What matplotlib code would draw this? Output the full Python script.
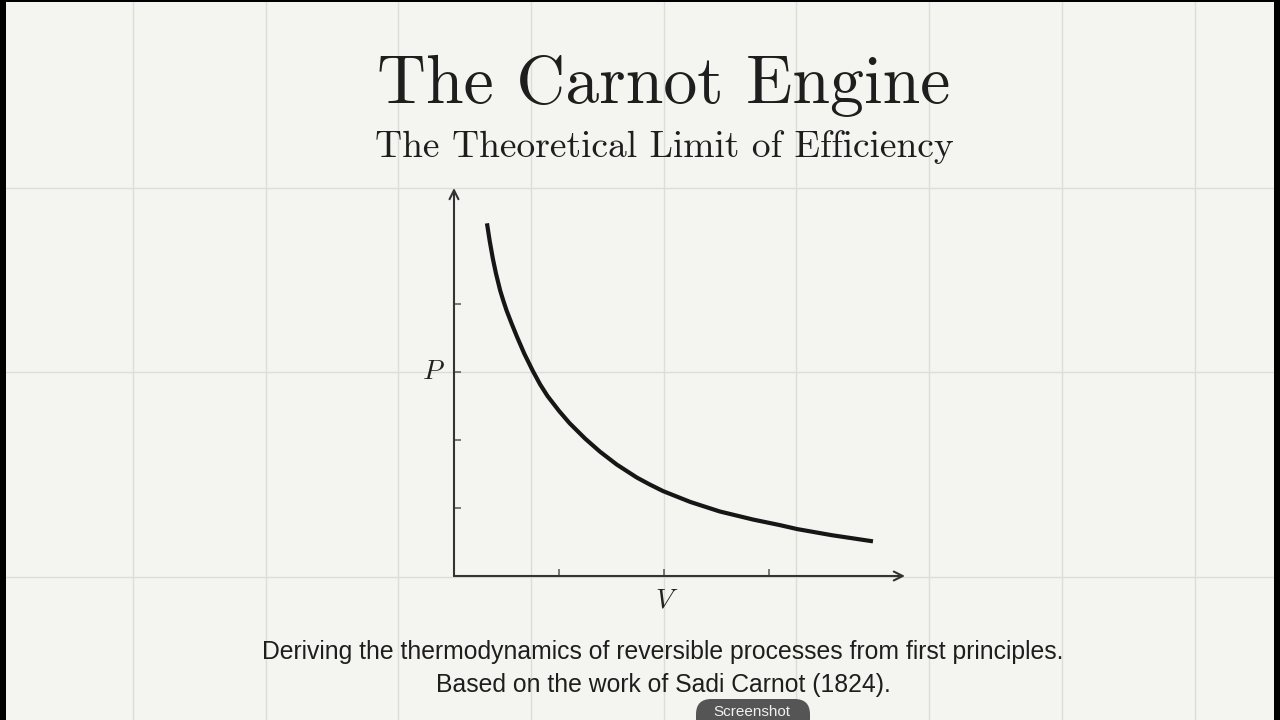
import numpy as np
import matplotlib
matplotlib.use('Agg')
import matplotlib.pyplot as plt
from matplotlib.patches import Rectangle, FancyBboxPatch

# curve (V, P)
vol = [0.314, 0.34, 0.37, 0.40, 0.44, 0.47, 0.50, 0.55, 0.60, 0.67, 0.75, 0.82, 0.89,
       1.00, 1.10, 1.25, 1.39, 1.55, 1.74, 1.86, 1.99, 2.25, 2.53, 2.85, 3.10, 3.27,
       3.60, 3.99]
pres = [5.19, 4.93, 4.67, 4.45, 4.20, 4.05, 3.91, 3.71, 3.52, 3.27, 3.02, 2.82, 2.65,
        2.43, 2.25, 2.02, 1.83, 1.64, 1.45, 1.35, 1.25, 1.09, 0.95, 0.83, 0.75, 0.69,
        0.60, 0.51]

xticks = [1, 2, 3]
yticks = [1, 2, 3, 4]
xmax, ymax = 4.295, 5.71

title = 'The Carnot Engine'
subtitle = 'The Theoretical Limit of Efficiency'
note1 = 'Deriving the thermodynamics of reversible processes from first principles.'
note2 = 'Based on the work of Sadi Carnot (1824).'

bg = '#f4f4f0'
W, H = 1280, 720
fig = plt.figure(figsize=(12.8, 7.2), dpi=100)
fig.set_facecolor(bg)

# background grid of the page
for gx in [133, 266, 398, 531, 664, 796, 929, 1062, 1195]:
    fig.add_artist(plt.Line2D([gx / W, gx / W], [0, 1], color='#dddcd7', lw=1.0, zorder=0))
for gy in [188, 372, 577]:
    fig.add_artist(plt.Line2D([0, 1], [1 - gy / H, 1 - gy / H], color='#dddcd7', lw=1.0, zorder=0))

# axes: origin at (454, 576) px
ax = fig.add_axes([454 / W, (H - 576) / H, (905 - 454) / W, (576 - 188) / H])
ax.patch.set_alpha(0)
ax.set_xlim(0, xmax)
ax.set_ylim(0, ymax)
for s in ax.spines.values():
    s.set_visible(False)

axc = '#333333'
ax.annotate('', xy=(xmax, 0), xytext=(0, 0),
            arrowprops=dict(arrowstyle='->', lw=1.5, color=axc, shrinkA=0, shrinkB=0,
                            mutation_scale=16), annotation_clip=False)
ax.annotate('', xy=(0, ymax), xytext=(0, 0),
            arrowprops=dict(arrowstyle='->', lw=1.5, color=axc, shrinkA=0, shrinkB=0,
                            mutation_scale=16), annotation_clip=False)

ax.set_xticks(xticks)
ax.set_yticks(yticks)
ax.tick_params(direction='in', length=5, width=1.1, color='#555555',
               labelbottom=False, labelleft=False)

ax.plot(vol, pres, color='#161616', lw=3.0, solid_capstyle='butt',
        solid_joinstyle='round', clip_on=False)

ax.text(-0.21, 3.0, 'P', fontfamily='cmmi10', fontsize=20, color='#222222',
        ha='center', va='center')
ax.text(2.0, -0.36, 'V', fontfamily='cmmi10', fontsize=20, color='#222222',
        ha='center', va='center')

# titles
fig.text(664 / W, 1 - 86 / H, title, fontfamily='cmr10', fontsize=48.8,
         color='#1e1e1e', ha='center', va='center')
fig.text(664 / W, 1 - 147 / H, subtitle, fontfamily='cmr10', fontsize=27,
         color='#1e1e1e', ha='center', va='center')

fig.text(663 / W, 1 - 652 / H, note1, fontfamily='Liberation Sans', fontsize=17.8,
         color='#1e1e1e', ha='center', va='center')
fig.text(663 / W, 1 - 685 / H, note2, fontfamily='Liberation Sans', fontsize=17.8,
         color='#1e1e1e', ha='center', va='center')

# screenshot badge
fig.add_artist(FancyBboxPatch((696 / W, -0.02), (810 - 696) / W, (0.02 + 21 / H),
                              boxstyle='round,pad=0,rounding_size=0.012',
                              fc='#555555', ec='none', transform=fig.transFigure,
                              mutation_aspect=W / H))
fig.text(752 / W, 1 - 712 / H, 'Screenshot', fontfamily='Liberation Sans', fontsize=11,
         color='#f0f0f0', ha='center', va='center')

# dark frame edges from the capture
fig.add_artist(Rectangle((0, 0), 6 / W, 1, transform=fig.transFigure, fc='black', ec='none'))
fig.add_artist(Rectangle((0, 1 - 2 / H), 1, 2 / H, transform=fig.transFigure, fc='black', ec='none'))
fig.add_artist(Rectangle((1 - 6 / W, 0), 6 / W, 1, transform=fig.transFigure, fc='black', ec='none'))

fig.savefig('out.png', dpi=100, facecolor=bg)
